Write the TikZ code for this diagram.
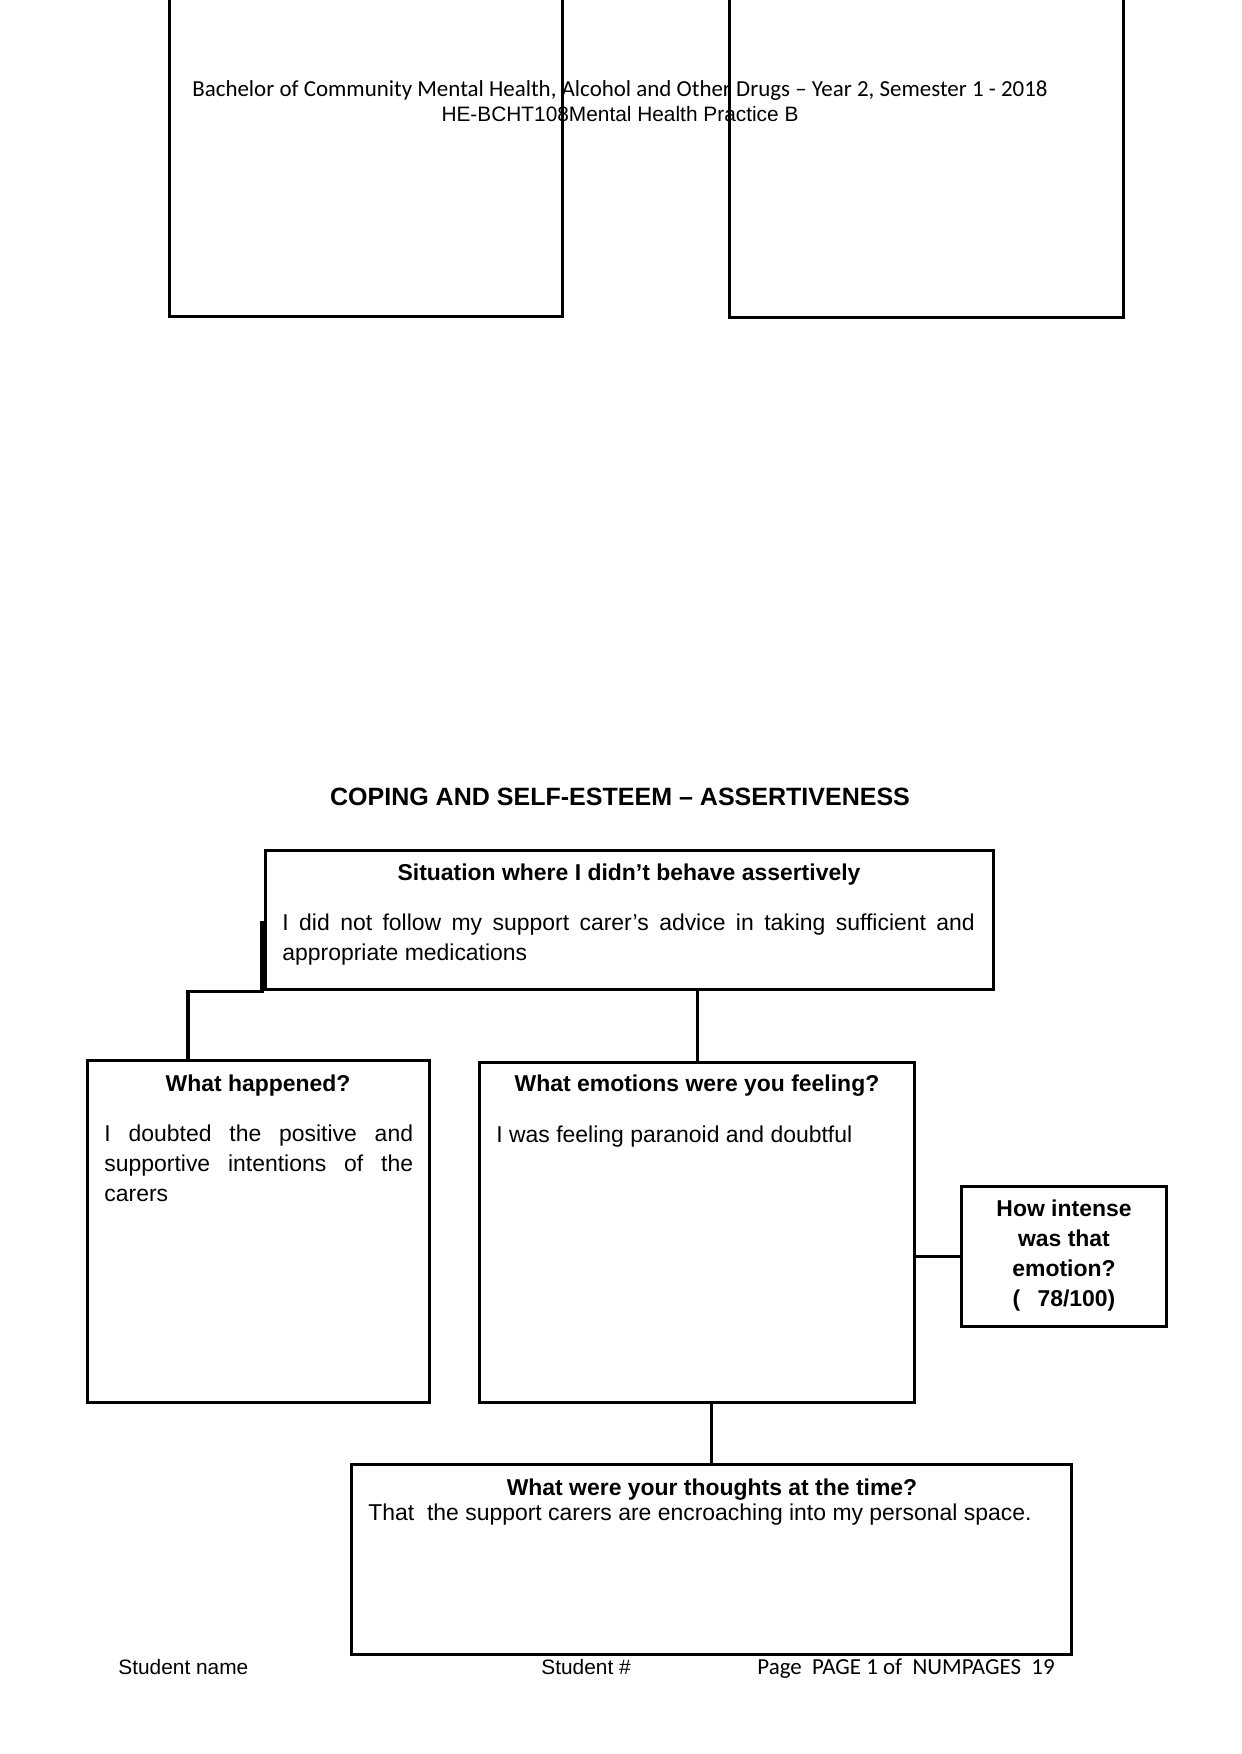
\documentclass[tikz,border=0pt]{standalone}
\usepackage{fontspec}
\setmainfont{Liberation Sans}
\newfontfamily\calib{Carlito}
\usetikzlibrary{calc}
\tikzset{
  box/.style={draw, line width=1.5pt, inner sep=0pt, anchor=north west},
  conn/.style={line width=1.5pt},
  hd/.style={font=\fontsize{11}{14.4}\selectfont\bfseries, inner sep=0pt, anchor=base},
  bodytxt/.style={font=\fontsize{11}{14.4}\selectfont, inner sep=0pt},
  foot/.style={font=\fontsize{10}{12}\selectfont, inner sep=0pt, anchor=base west}
}
\begin{document}
\begin{tikzpicture}[x=0.4795pt,y=-0.4795pt]
\useasboundingbox (0,0) rectangle (1241,1754);
% top boxes (cut by page top)
\node[box, minimum width=393*0.4795pt, minimum height=328*0.4795pt] (topL) at (168,-13) {};
\node[box, minimum width=394*0.4795pt, minimum height=329*0.4795pt] (topR) at (728,-13) {};
\node[font=\calib\fontsize{11}{13}\selectfont, inner sep=0pt, anchor=base] (hdr1) at (620,97)
  {Bachelor of Community Mental Health, Alcohol and Other Drugs – Year 2, Semester 1 - 2018};
\node[font=\fontsize{10}{12}\selectfont, inner sep=0pt, anchor=base] (hdr2) at (620,122)
  {HE-BCHT108Mental Health Practice B};
% title
\node[font=\fontsize{12}{14}\selectfont\bfseries, inner sep=0pt, anchor=base] (title) at (620,805)
  {COPING AND SELF-ESTEEM – ASSERTIVENESS};
% boxes
\node[box, minimum width=728*0.4795pt, minimum height=139*0.4795pt] (sit) at (264,849) {};
\node[box, minimum width=342*0.4795pt, minimum height=342*0.4795pt] (hap) at (86,1059) {};
\node[box, minimum width=435*0.4795pt, minimum height=340*0.4795pt] (emo) at (478,1061) {};
\node[box, minimum width=205*0.4795pt, minimum height=140*0.4795pt] (int) at (960,1185) {};
\node[box, minimum width=720*0.4795pt, minimum height=190*0.4795pt] (tho) at (350,1463) {};
% texts
\node[hd] (sith) at (629,880) {Situation where I didn’t behave assertively};
\node[bodytxt, anchor=north west, text width=332pt, align=justify] (sitb) at (282,913)
  {I did not follow my support carer’s advice in taking sufficient and\linebreak appropriate medications};
\node[hd] (haph) at (258,1091) {What happened?};
\node[bodytxt, anchor=north west, text width=148pt, align=justify] (hapb) at (104,1124)
  {I doubted the positive and\linebreak supportive intentions of the\linebreak carers};
\node[hd] (emoh) at (697,1091) {What emotions were you feeling?};
\node[bodytxt, anchor=base west] (emob) at (496,1142) {I was feeling paranoid and doubtful};
\node[hd, anchor=north, align=center] (inth) at (1064,1199)
  {How intense\\was that\\emotion?\\(\hspace{0.75em}78/100)};
\node[hd] (thoh) at (712,1495) {What were your thoughts at the time?};
\node[bodytxt, anchor=base west] (thob) at (368,1520)
  {That\ \ the support carers are encroaching into my personal space.};
% connectors
\coordinate (sitL) at (262,921);
\coordinate (hapT) at ($(hap.north west)+(102,0)$);
\draw[conn] (sitL) |- (hapT |- sit.south) -- (hapT);
\draw[conn] (emo.north |- sit.south) -- (emo.north);
\draw[conn] (int.west) -- (int.west -| emo.east);
\draw[conn] (tho.north |- emo.south) -- (tho.north);
% footer
\node[foot] (f1) at (118,1674) {Student name};
\node[foot] (f2) at (541,1674) {Student \#};
\node[foot, font=\calib\fontsize{11}{13}\selectfont] (f3) at (757,1674) {Page\ \ PAGE 1 of\ \ NUMPAGES\ \ 19};
\end{tikzpicture}
\end{document}
